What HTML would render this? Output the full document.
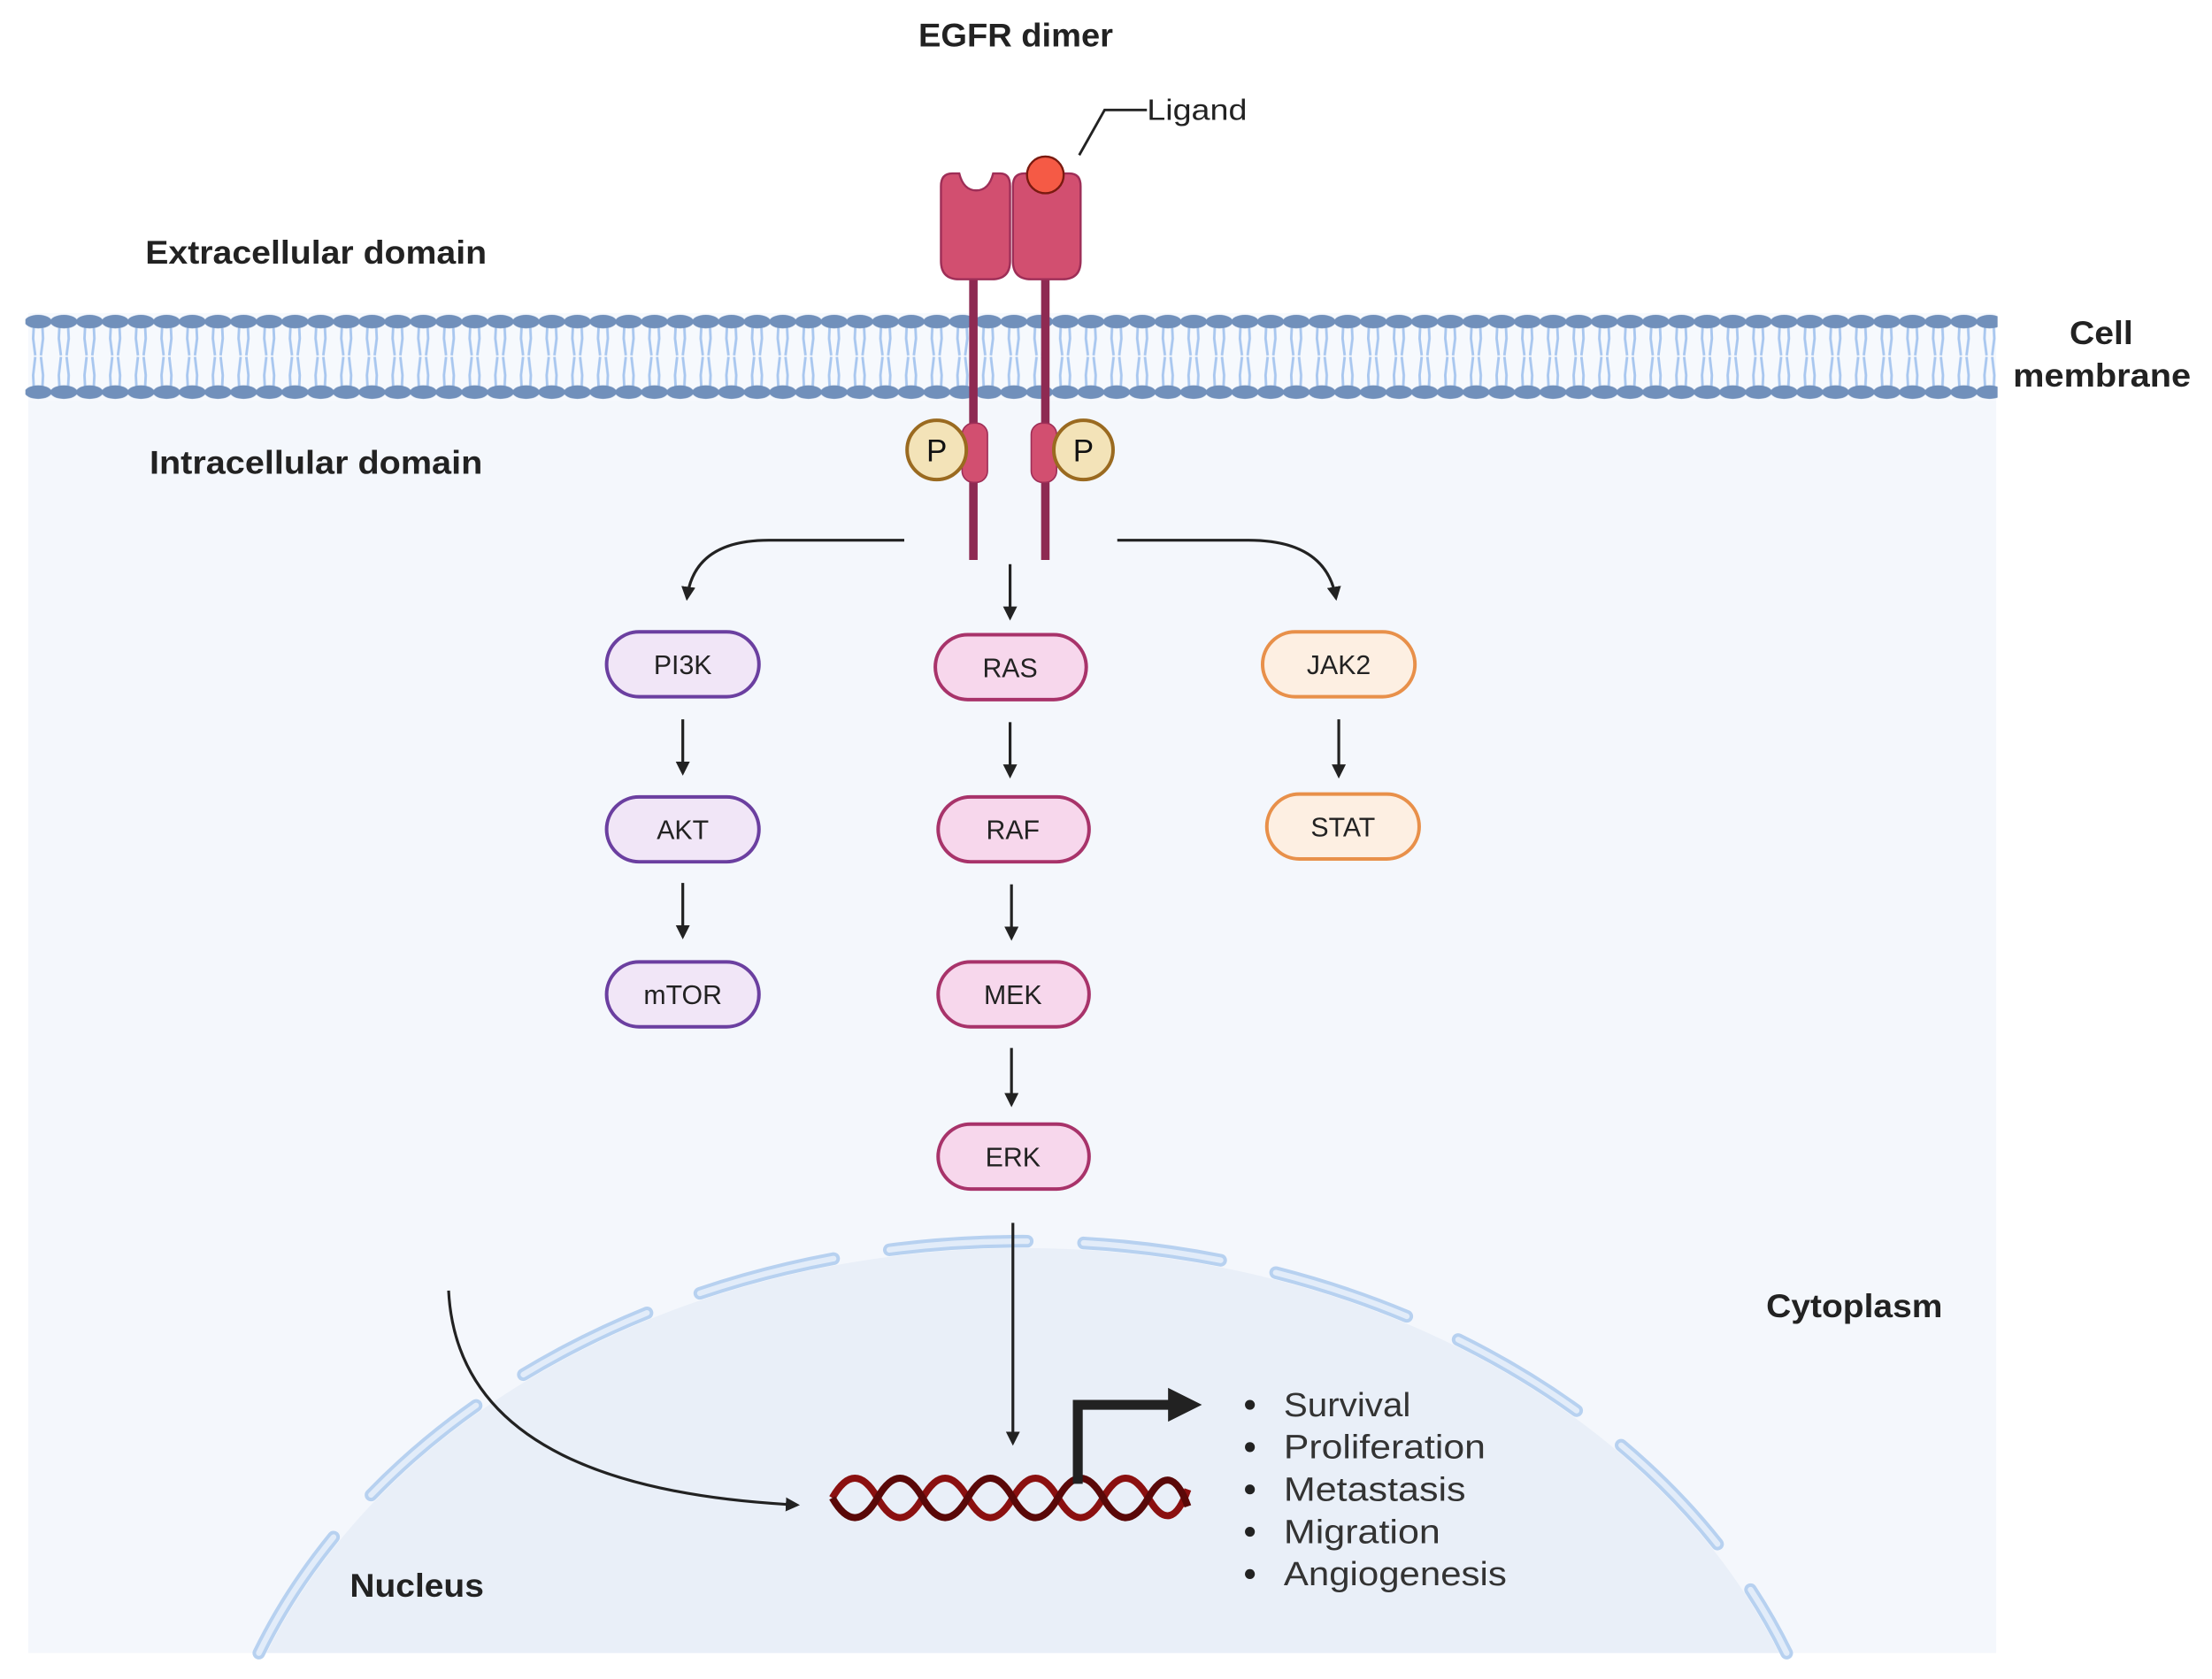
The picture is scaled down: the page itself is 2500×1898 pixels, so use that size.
<!DOCTYPE html>
<html><head><meta charset="utf-8"><style>
html,body{margin:0;padding:0;background:#fff;overflow:hidden;width:2500px;height:1898px;position:relative;}
svg{display:block;position:absolute;left:0;top:0;overflow:hidden;}
text{font-family:"Liberation Sans",sans-serif;}
</style></head><body>
<svg width="2500" height="1898" viewBox="0 0 1568 1190.4" preserveAspectRatio="none" xmlns="http://www.w3.org/2000/svg">
<defs>
<pattern id="lip" x="18" y="0" width="18.2" height="300" patternUnits="userSpaceOnUse">
  <path d="M6 230 L5.5 240 L7 252 M12 230 L12.5 240 L11 252 M6 276 L5.5 266 L7 253 M12 276 L12.5 266 L11 253" stroke="#a9c7ef" stroke-width="1.8" fill="none"/>
  <ellipse cx="9.1" cy="228" rx="9.6" ry="4.8" fill="#7190bb"/>
  <ellipse cx="9.1" cy="278" rx="9.6" ry="4.8" fill="#7190bb"/>
</pattern>
<marker id="ah" markerWidth="10" markerHeight="10" refX="8" refY="5" orient="auto" markerUnits="userSpaceOnUse">
  <path d="M0 0 L10 5 L0 10 Z" fill="#222"/>
</marker>
</defs>
<rect x="0" y="0" width="1568" height="1190" fill="#fff"/>
<rect x="20" y="280" width="1395" height="892" fill="#f4f7fc"/>
<rect x="20" y="222" width="1395" height="62" fill="#f6f9fd"/>
<rect x="18" y="220" width="1398" height="66" fill="url(#lip)"/>

<path d="M189 1172 A575 450 0 0 1 1261 1172 Z" fill="#e9eff8"/>
<path d="M183.5 1172 A580 455 0 0 1 1266.5 1172" fill="none" stroke="#b7d1f0" stroke-width="9" stroke-dasharray="98 40" stroke-linecap="round"/>
<path d="M183.5 1172 A580 455 0 0 1 1266.5 1172" fill="none" stroke="#e2ecf9" stroke-width="4" stroke-dasharray="98 40" stroke-linecap="round"/>

<!-- receptor -->
<line x1="690" y1="195" x2="690" y2="397" stroke="#8e2a52" stroke-width="6"/>
<line x1="741" y1="195" x2="741" y2="397" stroke="#8e2a52" stroke-width="6"/>
<path d="M667 132 Q667 123 675 123 L680 123 Q683 135 692 135 Q701 135 704 123 L709 123 Q716 123 716 132 L716 185 Q716 198 703 198 L680 198 Q667 198 667 185 Z" fill="#d24f70" stroke="#9e2e57" stroke-width="1.5"/>
<path d="M718 132 Q718 123 726 123 L758 123 Q766 123 766 132 L766 185 Q766 198 753 198 L731 198 Q718 198 718 185 Z" fill="#d24f70" stroke="#9e2e57" stroke-width="1.5"/>
<circle cx="741" cy="124" r="13" fill="#f55a45" stroke="#7a1a10" stroke-width="1.5"/>
<path d="M765 110 L783 78 L813 78" fill="none" stroke="#222" stroke-width="1.8"/>
<text x="813" y="85" font-size="21" fill="#222" textLength="71" lengthAdjust="spacingAndGlyphs">Ligand</text>
<rect x="682" y="300" width="18" height="42" rx="8" fill="#d24f70" stroke="#9e2e57" stroke-width="1"/>
<rect x="731" y="300" width="18" height="42" rx="8" fill="#d24f70" stroke="#9e2e57" stroke-width="1"/>
<circle cx="664" cy="319" r="21" fill="#f3e3b8" stroke="#9a6a20" stroke-width="2.5"/>
<circle cx="768" cy="319" r="21" fill="#f3e3b8" stroke="#9a6a20" stroke-width="2.5"/>
<text x="664" y="327" font-size="22" text-anchor="middle" fill="#111">P</text>
<text x="768" y="327" font-size="22" text-anchor="middle" fill="#111">P</text>

<!-- labels -->
<g font-weight="bold" fill="#222" font-size="23">
<text x="651" y="33" textLength="138" lengthAdjust="spacingAndGlyphs">EGFR dimer</text>
<text x="103" y="187" textLength="242" lengthAdjust="spacingAndGlyphs">Extracellular domain</text>
<text x="106" y="336" textLength="236" lengthAdjust="spacingAndGlyphs">Intracellular domain</text>
<text x="1467" y="244" textLength="45" lengthAdjust="spacingAndGlyphs">Cell</text>
<text x="1427" y="274" textLength="126" lengthAdjust="spacingAndGlyphs">membrane</text>
<text x="1252" y="934" textLength="125" lengthAdjust="spacingAndGlyphs">Cytoplasm</text>
<text x="248" y="1132" textLength="95" lengthAdjust="spacingAndGlyphs">Nucleus</text>
</g>

<!-- arrows -->
<g fill="none" stroke="#222" stroke-width="2">
<path d="M641 383 L545 383 Q492 383 487 424" marker-end="url(#ah)"/>
<path d="M792 383 L885 383 Q940 383 947 424" marker-end="url(#ah)"/>
<path d="M716 400 L716 438" marker-end="url(#ah)"/>
<path d="M484 510 L484 548" marker-end="url(#ah)"/>
<path d="M484 626 L484 664" marker-end="url(#ah)"/>
<path d="M716 512 L716 550" marker-end="url(#ah)"/>
<path d="M717 627 L717 665" marker-end="url(#ah)"/>
<path d="M717 743 L717 783" marker-end="url(#ah)"/>
<path d="M949 510 L949 550" marker-end="url(#ah)"/>
<path d="M718 867 L718 1023" marker-end="url(#ah)"/>
<path d="M318 915 Q325 1055 565 1067" marker-end="url(#ah)"/>
</g>

<!-- nodes -->
<g font-size="19" text-anchor="middle" fill="#222">
<g stroke="#6b3fa0" stroke-width="2.5" fill="#f1e6f7">
<rect x="430" y="448" width="108" height="46" rx="23"/>
<rect x="430" y="565" width="108" height="46" rx="23"/>
<rect x="430" y="682" width="108" height="46" rx="23"/>
</g>
<g stroke="#a8336a" stroke-width="2.5" fill="#f7d7ec">
<rect x="663" y="450" width="107" height="46" rx="23"/>
<rect x="665" y="565" width="107" height="46" rx="23"/>
<rect x="665" y="682" width="107" height="46" rx="23"/>
<rect x="665" y="797" width="107" height="46" rx="23"/>
</g>
<g stroke="#e8904a" stroke-width="2.5" fill="#fdefe2">
<rect x="895" y="448" width="108" height="46" rx="23"/>
<rect x="898" y="563" width="108" height="46" rx="23"/>
</g>
<text x="484" y="478">PI3K</text>
<text x="484" y="595">AKT</text>
<text x="484" y="712">mTOR</text>
<text x="716" y="480">RAS</text>
<text x="718" y="595">RAF</text>
<text x="718" y="712">MEK</text>
<text x="718" y="827">ERK</text>
<text x="949" y="478">JAK2</text>
<text x="952" y="593">STAT</text>
</g>

<!-- DNA -->
<path d="M590 1062 Q606 1034 622 1062 T654 1062 T686 1062 T718 1062 T750 1062 T782 1062 T814 1062 T842 1056" fill="none" stroke="#8b1010" stroke-width="5"/>
<path d="M590 1062 Q606 1090 622 1062 T654 1062 T686 1062 T718 1062 T750 1062 T782 1062 T814 1062 T842 1068" fill="none" stroke="#5a0808" stroke-width="5"/>
<path d="M764 1052 L764 996 L830 996" fill="none" stroke="#222" stroke-width="7"/>
<path d="M828 984 L852 996 L828 1008 Z" fill="#222"/>

<g font-size="24" fill="#333">
<circle cx="886" cy="996" r="3.5" fill="#222"/><text x="910" y="1004" textLength="90" lengthAdjust="spacingAndGlyphs">Survival</text>
<circle cx="886" cy="1026" r="3.5" fill="#222"/><text x="910" y="1034" textLength="143" lengthAdjust="spacingAndGlyphs">Proliferation</text>
<circle cx="886" cy="1056" r="3.5" fill="#222"/><text x="910" y="1064" textLength="129" lengthAdjust="spacingAndGlyphs">Metastasis</text>
<circle cx="886" cy="1086" r="3.5" fill="#222"/><text x="910" y="1094" textLength="111" lengthAdjust="spacingAndGlyphs">Migration</text>
<circle cx="886" cy="1116" r="3.5" fill="#222"/><text x="910" y="1124" textLength="158" lengthAdjust="spacingAndGlyphs">Angiogenesis</text>
</g>
</svg>
</body></html>
